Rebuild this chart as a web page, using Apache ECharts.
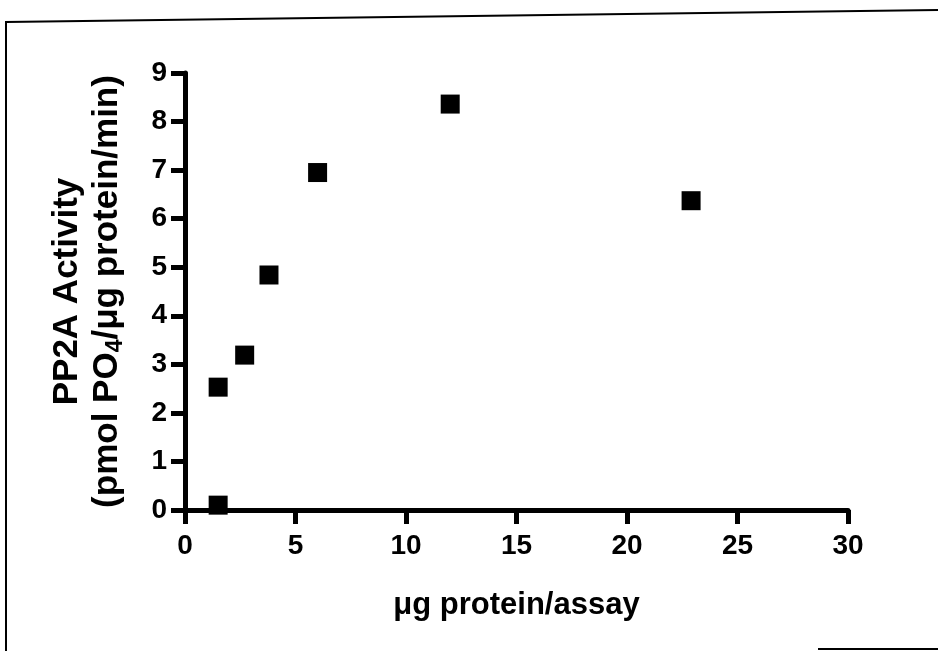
<!DOCTYPE html>
<html>
<head>
<meta charset="utf-8">
<script src="https://cdn.jsdelivr.net/npm/echarts@6/dist/echarts.min.js"></script>
<style>html,body{margin:0;padding:0;background:#fff}#c{width:938px;height:651px}</style>
</head>
<body>
<div id="c"></div>
<script>
// Data
const proteinUg = [1.5, 1.5, 2.7, 3.8, 6.0, 12.0, 22.9];
const pp2aActivity = [0.1, 2.53, 3.19, 4.84, 6.95, 8.36, 6.37];
const xTicks = [0, 5, 10, 15, 20, 25, 30];
const yTicks = [0, 1, 2, 3, 4, 5, 6, 7, 8, 9];
const xTitle = 'μg protein/assay';
const yTitleLine1 = 'PP2A Activity';

const points = proteinUg.map((x, i) => [x, pp2aActivity[i]]);
const FONT = '"Liberation Sans", Arial, Helvetica, sans-serif';

const chart = echarts.init(document.getElementById('c'), null, {renderer: 'canvas'});
chart.setOption({
  backgroundColor: '#ffffff',
  animation: false,
  grid: {left: 185, right: 90, top: 73, bottom: 141, containLabel: false},
  xAxis: {
    type: 'value',
    min: xTicks[0], max: xTicks[xTicks.length - 1], interval: 5,
    name: xTitle,
    nameLocation: 'middle',
    nameGap: 80,
    nameTextStyle: {fontFamily: FONT, fontWeight: 'bold', fontSize: 31, color: '#000'},
    axisLine: {show: true, onZero: false, lineStyle: {color: '#000', width: 5}},
    axisTick: {show: true, length: 14, lineStyle: {color: '#000', width: 5}},
    axisLabel: {fontFamily: FONT, fontWeight: 'bold', fontSize: 28, color: '#000', margin: 22},
    splitLine: {show: false}
  },
  yAxis: {
    type: 'value',
    min: yTicks[0], max: yTicks[yTicks.length - 1], interval: 1,
    name: '{l1|' + yTitleLine1 + '}\n{l2|(pmol PO}{sub|4}{l2|/μg protein/min)}',
    nameLocation: 'middle',
    nameRotate: 90,
    nameGap: 58,
    nameTextStyle: {
      fontFamily: FONT, fontWeight: 'bold', fontSize: 35, color: '#000',
      rich: {
        l1: {fontFamily: FONT, fontWeight: 'bold', fontSize: 35, color: '#000', lineHeight: 40},
        l2: {fontFamily: FONT, fontWeight: 'bold', fontSize: 35, color: '#000', lineHeight: 40},
        sub: {fontFamily: FONT, fontWeight: 'bold', fontSize: 23, color: '#000', verticalAlign: 'bottom', padding: [14, 0, 0, 0], lineHeight: 40}
      }
    },
    axisLine: {show: true, onZero: false, lineStyle: {color: '#000', width: 5}},
    axisTick: {show: true, length: 14, lineStyle: {color: '#000', width: 5}},
    axisLabel: {fontFamily: FONT, fontWeight: 'bold', fontSize: 28, color: '#000', margin: 18},
    splitLine: {show: false}
  },
  series: [{
    type: 'scatter',
    data: points,
    symbol: 'rect',
    symbolSize: 19,
    itemStyle: {color: '#000', opacity: 1},
    z: 5
  }],
  graphic: [
    {type: 'polyline', shape: {points: [[6, 651], [6, 22], [938, 10]]}, style: {stroke: '#000', lineWidth: 2, fill: null}, silent: true},
    {type: 'line', shape: {x1: 818, y1: 649, x2: 938, y2: 649}, style: {stroke: '#000', lineWidth: 2}, silent: true}
  ]
});
</script>
</body>
</html>
